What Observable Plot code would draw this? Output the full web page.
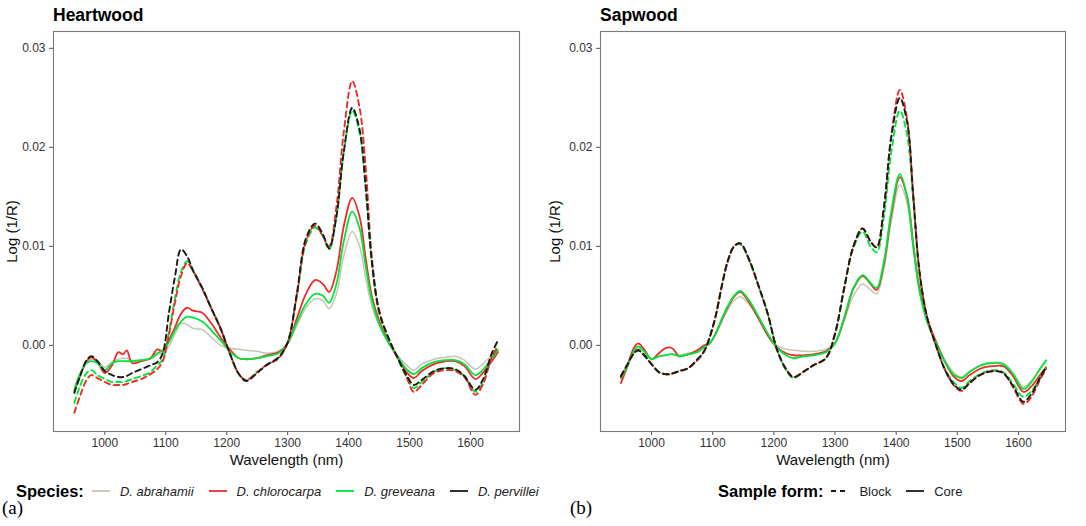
<!DOCTYPE html>
<html><head><meta charset="utf-8">
<script src="https://cdn.jsdelivr.net/npm/d3@7"></script>
<script src="https://cdn.jsdelivr.net/npm/@observablehq/plot@0.6"></script>
<style>
body{margin:0;background:#fff;font-family:"Liberation Sans",Arial,sans-serif;}
#wrap{position:relative;width:1086px;height:526px;overflow:hidden;background:#fff}
.panel{position:absolute;top:0;width:543px;height:526px;overflow:hidden}
.panel svg.chart{position:absolute;left:0;top:0}
.title{position:absolute;top:5px;font-weight:bold;font-size:17.5px;color:#000}
.legend{position:absolute;top:481px;display:flex;align-items:center;white-space:nowrap;font-size:13px;color:#222;height:20px}
.legend .lt{font-weight:bold;font-size:16.5px;margin-right:8px;color:#000}
.legend svg{margin-right:10px;flex:none}
.legend .it{margin-right:15px}
.legend .sp{font-style:italic}
.tag{position:absolute;top:497px;font-family:"Liberation Serif","Times New Roman",serif;font-size:19px;color:#000}
</style></head>
<body><div id="wrap"></div>
<script>
// ---------- data ----------
const wavelengths = [950,960,970,978,988, 1000,1012,1022,1030,1036, 1045,1060,1075,1086,1095,
  1105,1115,1125,1135,1145, 1160,1175,1190,1205,1220, 1232,1250,1265,1285,1300,
  1315,1330,1345,1358,1368, 1380,1392,1406,1418,1428, 1438,1450,1465,1480,1495,
  1507,1520,1540,1560,1575, 1590,1608,1620,1635,1645];

const xTicks = [1000,1100,1200,1300,1400,1500,1600];
const yTicks = [0, 0.01, 0.02, 0.03];
const speciesNames = ["D. abrahamii","D. chlorocarpa","D. greveana","D. pervillei"];
const speciesColors = ["#c9c4b5","#ee2b2b","#00e53c","#1a1a1a"];
const formNames = ["Block","Core"];
const panelTitles = ["Heartwood","Sapwood"];
const panelTags = ["(a)","(b)"];
const xLabel = "Wavelength (nm)";
const yLabel = "Log (1/R)";

// Heartwood
const heartAbrahamiiCore = [-0.0042,-0.0028,-0.0017,-0.0014,-0.0016, -0.0022,-0.0017,-0.0014,-0.0013,-0.0013,
  -0.0015,-0.0015,-0.0014,-0.0010,-0.0007, -0.0001,0.0011,0.0022,0.0021,0.0017,
  0.0016,0.0008,0.0000,-0.0003,-0.0004, -0.0005,-0.0006,-0.0008,-0.0006,0.0002,
  0.0020,0.0038,0.0047,0.0045,0.0037, 0.0052,0.0090,0.0115,0.0100,0.0068,
  0.0040,0.0020,0.0003,-0.0010,-0.0020, -0.0025,-0.0019,-0.0014,-0.0012,-0.0011,
  -0.0015,-0.0024,-0.0019,-0.0010,-0.0004];
const heartChlorocarpaCore = [-0.0046,-0.0030,-0.0016,-0.0012,-0.0017, -0.0028,-0.0020,-0.0007,-0.0009,-0.0005,
  -0.0018,-0.0016,-0.0013,-0.0004,-0.0006, 0.0005,0.0018,0.0032,0.0038,0.0035,
  0.0033,0.0022,0.0008,-0.0004,-0.0013, -0.0014,-0.0013,-0.0010,-0.0007,0.0002,
  0.0027,0.0052,0.0066,0.0062,0.0054, 0.0075,0.0120,0.0149,0.0130,0.0088,
  0.0050,0.0025,0.0004,-0.0012,-0.0027, -0.0033,-0.0026,-0.0019,-0.0016,-0.0016,
  -0.0021,-0.0034,-0.0028,-0.0016,-0.0007];
const heartGreveanaCore = [-0.0045,-0.0028,-0.0018,-0.0016,-0.0018, -0.0025,-0.0018,-0.0016,-0.0016,-0.0016,
  -0.0016,-0.0015,-0.0013,-0.0008,-0.0005, 0.0003,0.0015,0.0024,0.0029,0.0028,
  0.0024,0.0015,0.0005,-0.0006,-0.0013, -0.0014,-0.0013,-0.0011,-0.0008,0.0002,
  0.0023,0.0042,0.0052,0.0050,0.0043, 0.0062,0.0105,0.0135,0.0118,0.0080,
  0.0046,0.0022,0.0003,-0.0011,-0.0024, -0.0029,-0.0023,-0.0017,-0.0015,-0.0015,
  -0.0019,-0.0030,-0.0025,-0.0013,-0.0005];
const heartChlorocarpaBlock = [-0.0068,-0.0050,-0.0035,-0.0030,-0.0033, -0.0037,-0.0040,-0.0040,-0.0040,-0.0039,
  -0.0037,-0.0034,-0.0029,-0.0024,-0.0016, 0.0010,0.0043,0.0070,0.0083,0.0075,
  0.0057,0.0037,0.0017,-0.0008,-0.0029, -0.0035,-0.0027,-0.0020,-0.0013,0.0003,
  0.0050,0.0105,0.0121,0.0110,0.0100, 0.0140,0.0215,0.0267,0.0240,0.0180,
  0.0090,0.0035,0.0008,-0.0012,-0.0032, -0.0047,-0.0040,-0.0028,-0.0025,-0.0026,
  -0.0032,-0.0050,-0.0040,-0.0012,-0.0002];
const heartGreveanaBlock = [-0.0058,-0.0040,-0.0028,-0.0025,-0.0030, -0.0034,-0.0037,-0.0037,-0.0037,-0.0036,
  -0.0034,-0.0031,-0.0027,-0.0020,-0.0014, 0.0013,0.0047,0.0074,0.0085,0.0076,
  0.0057,0.0037,0.0017,-0.0008,-0.0029, -0.0035,-0.0027,-0.0020,-0.0013,0.0003,
  0.0050,0.0103,0.0119,0.0110,0.0097, 0.0130,0.0195,0.0237,0.0215,0.0160,
  0.0085,0.0033,0.0007,-0.0012,-0.0032, -0.0043,-0.0037,-0.0027,-0.0023,-0.0025,
  -0.0031,-0.0047,-0.0038,-0.0012,0.0000];
const heartPervilleiBlock = [-0.0048,-0.0030,-0.0015,-0.0011,-0.0016, -0.0026,-0.0030,-0.0032,-0.0032,-0.0031,
  -0.0028,-0.0024,-0.0020,-0.0017,-0.0008, 0.0032,0.0069,0.0097,0.0090,0.0075,
  0.0058,0.0037,0.0017,-0.0008,-0.0029, -0.0036,-0.0028,-0.0020,-0.0012,0.0003,
  0.0052,0.0108,0.0123,0.0112,0.0098, 0.0130,0.0195,0.0240,0.0218,0.0160,
  0.0085,0.0035,0.0008,-0.0012,-0.0030, -0.0040,-0.0035,-0.0026,-0.0023,-0.0024,
  -0.0031,-0.0045,-0.0035,-0.0008,0.0005];

// Sapwood
const sapAbrahamiiCore = [-0.0034,-0.0022,-0.0008,-0.0003,-0.0007, -0.0014,-0.0011,-0.0010,-0.0009,-0.0009,
  -0.0010,-0.0008,-0.0006,-0.0002,0.0002, 0.0011,0.0024,0.0036,0.0045,0.0049,
  0.0041,0.0027,0.0011,0.0000,-0.0004, -0.0005,-0.0006,-0.0006,-0.0004,0.0003,
  0.0025,0.0050,0.0062,0.0056,0.0052, 0.0078,0.0125,0.0162,0.0143,0.0097,
  0.0055,0.0026,0.0004,-0.0015,-0.0028, -0.0032,-0.0026,-0.0019,-0.0017,-0.0018,
  -0.0027,-0.0042,-0.0036,-0.0024,-0.0016];
const sapChlorocarpaCore = [-0.0038,-0.0022,-0.0004,0.0002,-0.0004, -0.0014,-0.0008,-0.0003,-0.0002,-0.0004,
  -0.0011,-0.0009,-0.0005,0.0000,0.0002, 0.0012,0.0026,0.0039,0.0049,0.0054,
  0.0043,0.0027,0.0010,-0.0002,-0.0008, -0.0010,-0.0010,-0.0009,-0.0006,0.0002,
  0.0027,0.0057,0.0070,0.0062,0.0056, 0.0082,0.0132,0.0170,0.0150,0.0102,
  0.0058,0.0028,0.0004,-0.0017,-0.0032, -0.0036,-0.0030,-0.0023,-0.0021,-0.0021,
  -0.0030,-0.0047,-0.0042,-0.0030,-0.0022];
const sapGreveanaCore = [-0.0033,-0.0022,-0.0007,-0.0001,-0.0006, -0.0014,-0.0011,-0.0010,-0.0009,-0.0009,
  -0.0011,-0.0009,-0.0007,-0.0002,0.0002, 0.0012,0.0027,0.0040,0.0050,0.0055,
  0.0045,0.0029,0.0012,-0.0002,-0.0010, -0.0013,-0.0011,-0.0010,-0.0007,0.0002,
  0.0028,0.0058,0.0071,0.0063,0.0058, 0.0085,0.0135,0.0173,0.0150,0.0100,
  0.0055,0.0025,0.0003,-0.0017,-0.0030, -0.0033,-0.0027,-0.0020,-0.0018,-0.0019,
  -0.0028,-0.0044,-0.0038,-0.0024,-0.0015];
const sapChlorocarpaBlock = [-0.0032,-0.0020,-0.0009,-0.0005,-0.0010, -0.0019,-0.0027,-0.0029,-0.0029,-0.0028,
  -0.0026,-0.0023,-0.0015,-0.0006,0.0008, 0.0030,0.0060,0.0085,0.0100,0.0103,
  0.0086,0.0060,0.0032,-0.0004,-0.0024, -0.0032,-0.0026,-0.0020,-0.0013,0.0012,
  0.0058,0.0100,0.0118,0.0105,0.0099, 0.0140,0.0212,0.0258,0.0228,0.0152,
  0.0076,0.0030,0.0000,-0.0025,-0.0041, -0.0046,-0.0038,-0.0029,-0.0026,-0.0028,
  -0.0041,-0.0059,-0.0053,-0.0035,-0.0024];
const sapGreveanaBlock = [-0.0031,-0.0020,-0.0009,-0.0005,-0.0010, -0.0019,-0.0027,-0.0029,-0.0029,-0.0028,
  -0.0026,-0.0023,-0.0015,-0.0006,0.0008, 0.0030,0.0061,0.0086,0.0100,0.0102,
  0.0085,0.0060,0.0032,-0.0004,-0.0025, -0.0033,-0.0026,-0.0020,-0.0013,0.0011,
  0.0057,0.0098,0.0115,0.0100,0.0094, 0.0130,0.0195,0.0237,0.0212,0.0145,
  0.0073,0.0029,0.0000,-0.0024,-0.0038, -0.0043,-0.0036,-0.0028,-0.0025,-0.0027,
  -0.0038,-0.0052,-0.0047,-0.0033,-0.0023];
const sapPervilleiBlock = [-0.0031,-0.0020,-0.0009,-0.0005,-0.0010, -0.0019,-0.0027,-0.0029,-0.0029,-0.0028,
  -0.0026,-0.0023,-0.0014,-0.0006,0.0008, 0.0030,0.0060,0.0086,0.0100,0.0103,
  0.0086,0.0060,0.0032,-0.0004,-0.0024, -0.0032,-0.0026,-0.0020,-0.0013,0.0012,
  0.0058,0.0100,0.0118,0.0105,0.0099, 0.0140,0.0210,0.0250,0.0225,0.0150,
  0.0075,0.0030,0.0000,-0.0025,-0.0040, -0.0045,-0.0038,-0.0029,-0.0026,-0.0028,
  -0.0040,-0.0057,-0.0050,-0.0033,-0.0022];

// ---------- build ----------
const heartSeries = [
  {sp:0, form:"Core",  values: heartAbrahamiiCore},
  {sp:1, form:"Core",  values: heartChlorocarpaCore},
  {sp:2, form:"Core",  values: heartGreveanaCore},
  {sp:2, form:"Block", values: heartGreveanaBlock},
  {sp:1, form:"Block", values: heartChlorocarpaBlock},
  {sp:3, form:"Block", values: heartPervilleiBlock}
];
const sapSeries = [
  {sp:0, form:"Core",  values: sapAbrahamiiCore},
  {sp:1, form:"Core",  values: sapChlorocarpaCore},
  {sp:2, form:"Core",  values: sapGreveanaCore},
  {sp:2, form:"Block", values: sapGreveanaBlock},
  {sp:1, form:"Block", values: sapChlorocarpaBlock},
  {sp:3, form:"Block", values: sapPervilleiBlock}
];

function makePlot(series, ml, mr, xDomain, yTitleDx) {
  const lineMarks = series.map(s => {
    const rows = s.values.map((v, i) => ({wl: wavelengths[i], v}));
    const dashed = s.form === "Block";
    return Plot.line(rows, {
      x: "wl", y: "v", curve: "catmull-rom",
      stroke: speciesColors[s.sp],
      strokeWidth: dashed ? 1.9 : (s.sp === 0 ? 1.5 : 1.8),
      strokeDasharray: dashed ? "5.5,4" : null
    });
  });
  return Plot.plot({
    width: 543, height: 470,
    marginTop: 31, marginBottom: 39, marginLeft: ml, marginRight: mr,
    x: {domain: xDomain},
    y: {domain: [-0.0087, 0.0317]},
    style: {fontFamily: "'Liberation Sans', Arial, sans-serif", background: "transparent", overflow: "visible"},
    marks: [
      Plot.axisX({ticks: xTicks, tickFormat: d => String(d), tickSize: 4, tickPadding: 3, fontSize: 12, label: null, color: "#333", stroke: "#555"}),
      Plot.axisY({ticks: yTicks, tickFormat: d => d.toFixed(2), tickSize: 4, tickPadding: 4, fontSize: 12, label: null, color: "#333", stroke: "#555"}),
      ...lineMarks,
      Plot.frame({stroke: "#7a7a7a", strokeWidth: 1.1}),
      Plot.text([xLabel], {frameAnchor: "bottom", dy: 33, fontSize: 15, fill: "#111", text: d => d, textAnchor: "middle"}),
      Plot.text([yLabel], {frameAnchor: "left", dx: yTitleDx, rotate: -90, fontSize: 15, fill: "#111", text: d => d, textAnchor: "middle"})
    ]
  });
}

function keySvg(color, dashed) {
  const ns = "http://www.w3.org/2000/svg";
  const s = document.createElementNS(ns, "svg");
  s.setAttribute("width", 18); s.setAttribute("height", 10);
  const l = document.createElementNS(ns, "line");
  l.setAttribute("x1", 0); l.setAttribute("x2", 18); l.setAttribute("y1", 5); l.setAttribute("y2", 5);
  l.setAttribute("stroke", color); l.setAttribute("stroke-width", 1.8);
  if (dashed) l.setAttribute("stroke-dasharray", "5,4");
  s.appendChild(l);
  return s;
}

const wrap = document.getElementById("wrap");
const configs = [
  {left: 0, series: heartSeries, ml: 53, mr: 24, xd: [915.8, 1680.4], ydx: -41, titleX: 53, legendX: 16, tagX: 2},
  {left: 543, series: sapSeries, ml: 57, mr: 21, xd: [916.6, 1676.8], ydx: -45, titleX: 57, legendX: 175, tagX: 27}
];
configs.forEach((c, k) => {
  const p = document.createElement("div");
  p.className = "panel"; p.style.left = c.left + "px";
  const chart = makePlot(c.series, c.ml, c.mr, c.xd, c.ydx);
  chart.classList.add("chart");
  p.appendChild(chart);
  const t = document.createElement("div");
  t.className = "title"; t.style.left = c.titleX + "px"; t.textContent = panelTitles[k];
  p.appendChild(t);
  const lg = document.createElement("div");
  lg.className = "legend"; lg.style.left = c.legendX + "px";
  const lt = document.createElement("span");
  lt.className = "lt";
  if (k === 0) {
    lt.textContent = "Species:"; lg.appendChild(lt);
    speciesNames.forEach((n, i) => {
      lg.appendChild(keySvg(speciesColors[i], false));
      const sp = document.createElement("span"); sp.className = "it sp"; sp.textContent = n; lg.appendChild(sp);
    });
  } else {
    lt.textContent = "Sample form:"; lg.appendChild(lt);
    formNames.forEach((n, i) => {
      lg.appendChild(keySvg("#1a1a1a", n === "Block"));
      const sp = document.createElement("span"); sp.className = "it"; sp.textContent = n; lg.appendChild(sp);
    });
  }
  p.appendChild(lg);
  const tag = document.createElement("div");
  tag.className = "tag"; tag.style.left = c.tagX + "px"; tag.textContent = panelTags[k];
  p.appendChild(tag);
  wrap.appendChild(p);
});
</script></body></html>
